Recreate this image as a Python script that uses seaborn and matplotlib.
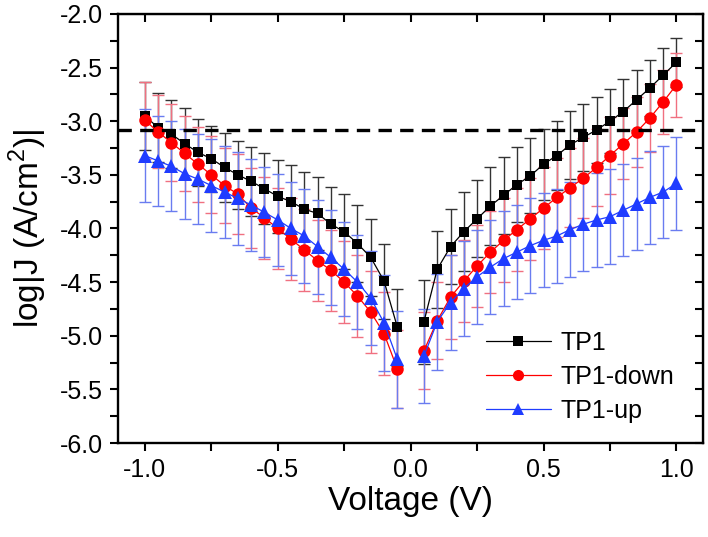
import numpy as np
import pandas as pd
import matplotlib
matplotlib.use("Agg")
import matplotlib.pyplot as plt
from matplotlib.lines import Line2D
from matplotlib.ticker import MultipleLocator
import seaborn as sns

# Voltage sweep (V), no point at 0 V
voltage = [-1.0, -0.95, -0.9, -0.85, -0.8, -0.75, -0.7, -0.65, -0.6, -0.55,
           -0.5, -0.45, -0.4, -0.35, -0.3, -0.25, -0.2, -0.15, -0.1, -0.05,
           0.05, 0.1, 0.15, 0.2, 0.25, 0.3, 0.35, 0.4, 0.45, 0.5,
           0.55, 0.6, 0.65, 0.7, 0.75, 0.8, 0.85, 0.9, 0.95, 1.0]

# log|J| values
tp1 = [-2.95, -3.06, -3.12, -3.21, -3.29, -3.35, -3.43, -3.50, -3.56, -3.63,
       -3.70, -3.75, -3.82, -3.86, -3.96, -4.03, -4.14, -4.27, -4.49, -4.92,
       -4.87, -4.38, -4.17, -4.03, -3.91, -3.79, -3.69, -3.59, -3.51, -3.40,
       -3.32, -3.22, -3.15, -3.08, -3.00, -2.91, -2.80, -2.69, -2.57, -2.45]
tp1_down = [-2.99, -3.10, -3.20, -3.30, -3.40, -3.50, -3.60, -3.68, -3.81, -3.90,
            -4.00, -4.10, -4.20, -4.30, -4.39, -4.50, -4.63, -4.78, -4.98, -5.31,
            -5.14, -4.86, -4.64, -4.49, -4.35, -4.22, -4.11, -4.01, -3.91, -3.81,
            -3.71, -3.62, -3.53, -3.43, -3.32, -3.21, -3.10, -2.97, -2.82, -2.66]
tp1_up = [-3.32, -3.37, -3.42, -3.49, -3.54, -3.60, -3.66, -3.72, -3.78, -3.85,
          -3.92, -4.00, -4.07, -4.17, -4.27, -4.38, -4.50, -4.65, -4.88, -5.22,
          -5.19, -4.87, -4.69, -4.56, -4.45, -4.36, -4.28, -4.22, -4.16, -4.11,
          -4.07, -4.01, -3.96, -3.92, -3.89, -3.83, -3.77, -3.71, -3.66, -3.58]

# error bar half-widths
tp1_err = [0.32, 0.32, 0.32, 0.33, 0.31, 0.31, 0.32, 0.32, 0.32, 0.33,
           0.34, 0.34, 0.35, 0.34, 0.35, 0.35, 0.36, 0.36, 0.35, 0.36,
           0.39, 0.36, 0.35, 0.37, 0.36, 0.36, 0.36, 0.35, 0.35, 0.33,
           0.32, 0.32, 0.31, 0.31, 0.30, 0.30, 0.28, 0.26, 0.25, 0.23]
down_err = [0.36, 0.34, 0.36, 0.35, 0.35, 0.36, 0.35, 0.37, 0.37, 0.38,
            0.38, 0.38, 0.38, 0.38, 0.38, 0.38, 0.38, 0.38, 0.39, 0.36,
            0.36, 0.36, 0.39, 0.38, 0.38, 0.38, 0.39, 0.39, 0.38, 0.38,
            0.37, 0.37, 0.37, 0.36, 0.36, 0.33, 0.33, 0.32, 0.30, 0.30]
up_err = [0.43, 0.42, 0.42, 0.42, 0.42, 0.43, 0.43, 0.43, 0.43, 0.42,
          0.43, 0.43, 0.44, 0.44, 0.44, 0.44, 0.44, 0.44, 0.45, 0.45,
          0.44, 0.45, 0.44, 0.44, 0.44, 0.44, 0.44, 0.44, 0.44, 0.44,
          0.44, 0.44, 0.44, 0.44, 0.44, 0.43, 0.43, 0.43, 0.43, 0.43]

threshold = -3.08

labels = ["TP1", "TP1-down", "TP1-up"]
colors = ["#000000", "#ff0000", "#1f3cff"]
err_colors = ["#333333", "#f07080", "#6a7cf0"]
markers = ["s", "o", "^"]
msizes = [7.5, 9, 9.5]

sns.set_style("ticks")
plt.rcParams['font.family'] = ['Liberation Sans', 'DejaVu Sans']
plt.rcParams['mathtext.fontset'] = 'custom'
plt.rcParams['mathtext.rm'] = 'Liberation Sans'
for key in ['text.color', 'axes.labelcolor', 'xtick.color', 'ytick.color', 'axes.edgecolor']:
    plt.rcParams[key] = 'black'

rows = []
for name, vals, errs in zip(labels, [tp1, tp1_down, tp1_up], [tp1_err, down_err, up_err]):
    for v, j, e in zip(voltage, vals, errs):
        rows.append({"V": v, "logJ": j, "err": e, "series": name,
                     "branch": "neg" if v < 0 else "pos"})
df = pd.DataFrame(rows)

fig = plt.figure(figsize=(7.08, 5.37), dpi=100)
ax = fig.add_axes([0.167, 0.175, 0.826, 0.799])

for name, c, ec, m, ms in zip(labels, colors, err_colors, markers, msizes):
    sub = df[df["series"] == name]
    ax.errorbar(sub["V"], sub["logJ"], yerr=sub["err"], fmt="none",
                ecolor=ec, elinewidth=1.0, capsize=4, capthick=1.0, zorder=2)
    for br in ["neg", "pos"]:
        part = sub[sub["branch"] == br]
        sns.lineplot(data=part, x="V", y="logJ", ax=ax, color=c, lw=0.9,
                     marker=m, markersize=ms, markeredgewidth=0,
                     estimator=None, sort=True, zorder=3)

ax.axhline(threshold, color="black", lw=2.4, ls=(0, (4, 2.5)), zorder=4)

ax.set_xlim(-1.1, 1.1)
ax.set_ylim(-6.0, -2.0)
ax.xaxis.set_major_locator(MultipleLocator(0.5))
ax.xaxis.set_minor_locator(MultipleLocator(0.25))
ax.yaxis.set_major_locator(MultipleLocator(0.5))
ax.yaxis.set_minor_locator(MultipleLocator(0.25))
ax.set_xticklabels([f"{t:.1f}" for t in ax.get_xticks()])
ax.set_yticklabels([f"{t:.1f}" for t in ax.get_yticks()])
ax.tick_params(which="both", direction="out", width=1.5, labelsize=18, pad=5)
ax.tick_params(which="major", length=6)
ax.tick_params(which="minor", length=6)
for s in ax.spines.values():
    s.set_linewidth(1.7)
    s.set_visible(True)

top = ax.secondary_xaxis("top")
top.xaxis.set_major_locator(MultipleLocator(0.25))
top.tick_params(direction="in", length=6, width=1.5, labeltop=False)
right = ax.secondary_yaxis("right")
right.yaxis.set_major_locator(MultipleLocator(0.25))
right.tick_params(direction="in", length=6, width=1.5, labelright=False)

ax.set_xlabel("Voltage (V)", fontsize=24, labelpad=3)
ax.set_ylabel(r"log|J (A/cm$^2$)|", fontsize=24, labelpad=8)

handles = [Line2D([], [], color=c, lw=0.9, marker=m, markersize=ms - 1, markeredgewidth=0)
           for c, m, ms in zip(colors, markers, msizes)]
ax.legend(handles, labels, loc="lower left", bbox_to_anchor=(0.59, -0.005),
          frameon=False, fontsize=18, handlelength=2.6, handletextpad=0.4,
          labelspacing=0.4)

fig.savefig("out.png", dpi=100)
